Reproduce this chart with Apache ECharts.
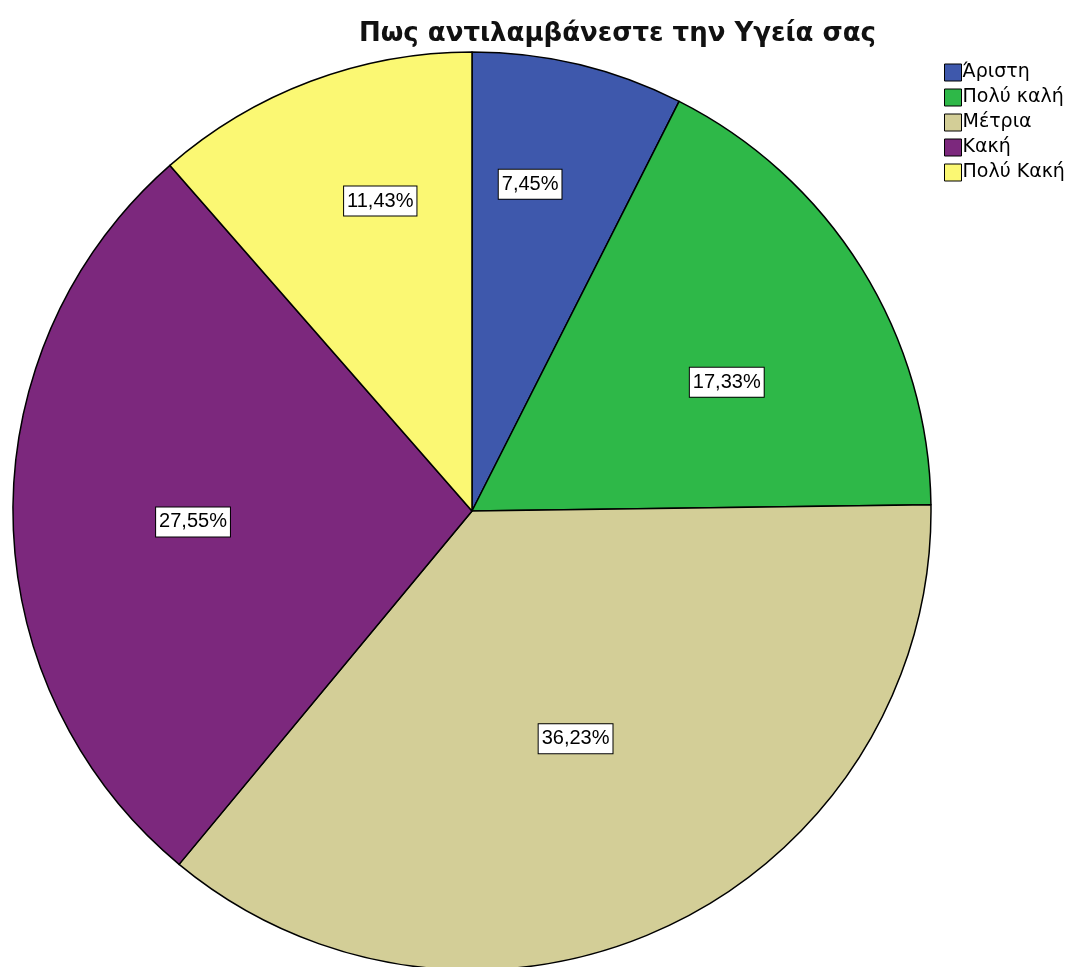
<!DOCTYPE html>
<html>
<head>
<meta charset="utf-8">
<script src="https://cdn.jsdelivr.net/npm/echarts@6/dist/echarts.min.js"></script>
<style>
  html, body { margin: 0; padding: 0; background: #fff; }
  #chart { width: 1072px; height: 967px; }
</style>
</head>
<body>
<div id="chart"></div>
<script>
// categories and shares (%)
var categories = ['Άριστη', 'Πολύ καλή', 'Μέτρια', 'Κακή', 'Πολύ Κακή'];
var values = [7.45, 17.33, 36.23, 27.55, 11.43];
var colors = ['#3E58AC', '#2EB848', '#D3CE97', '#7C287D', '#FBF873'];
var titleText = 'Πως αντιλαμβάνεστε την Υγεία σας';

// small nudges so labels sit where the original tool put them
var labelNudge = [[-11, -37], [2, 29], [-25, -41], [19, 7], [13, -31]];

var pieData = categories.map(function (name, i) {
  return { name: name, value: values[i] };
});

var chart = echarts.init(document.getElementById('chart'));
chart.setOption({
  animation: false,
  color: colors,
  title: {
    text: titleText,
    left: 354,
    top: 16,
    textStyle: {
      fontFamily: 'DejaVu Sans, sans-serif',
      fontSize: 26,
      fontWeight: 'bold',
      color: '#111'
    }
  },
  legend: {
    orient: 'vertical',
    left: 939,
    top: 58,
    itemWidth: 17,
    itemHeight: 17,
    itemGap: 6,
    icon: 'rect',
    data: categories,
    itemStyle: { borderColor: '#000', borderWidth: 1 },
    textStyle: {
      fontFamily: 'DejaVu Sans, sans-serif',
      fontSize: 19,
      color: '#000',
      padding: [0, 0, 0, -4]
    }
  },
  series: [
    {
      // visible pie
      type: 'pie',
      center: [472, 511],
      radius: [0, 459],
      startAngle: 90,
      clockwise: true,
      silent: true,
      itemStyle: { borderColor: '#000', borderWidth: 1.5 },
      label: { show: false },
      labelLine: { show: false },
      data: pieData
    },
    {
      // transparent copy, only used to push labels outward
      type: 'pie',
      center: [472, 511],
      radius: [0, 590],
      startAngle: 90,
      clockwise: true,
      silent: true,
      itemStyle: { color: 'rgba(0,0,0,0)', borderWidth: 0 },
      label: {
        show: true,
        position: 'inside',
        formatter: function (p) {
          return p.value.toFixed(2).replace('.', ',') + '%';
        },
        fontFamily: 'Liberation Sans, Arial, sans-serif',
        fontSize: 20,
        color: '#000',
        backgroundColor: '#fff',
        borderColor: '#000',
        borderWidth: 1,
        padding: [5, 3, 4, 3]
      },
      labelLayout: function (params) {
        var n = labelNudge[params.dataIndex];
        return { dx: n[0], dy: n[1] };
      },
      labelLine: { show: false },
      data: pieData
    }
  ]
});
</script>
</body>
</html>
